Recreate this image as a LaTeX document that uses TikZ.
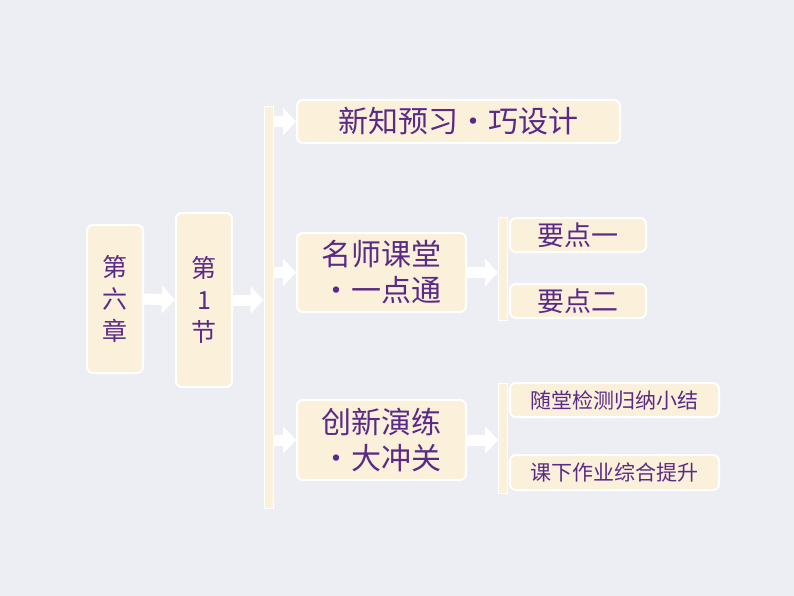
\documentclass[tikz,border=0pt]{standalone}
\usepackage{fontspec}
\setmainfont{Noto Sans CJK SC}
\usetikzlibrary{arrows.meta}
\definecolor{bgcol}{HTML}{EDEDF4}
\definecolor{boxcol}{HTML}{FBF0D9}
\definecolor{txtcol}{HTML}{5A2A86}
\tikzset{
  card/.style={draw=white, line width=2pt, fill=boxcol, rounded corners=6pt,
    text=txtcol, inner sep=0pt, align=center},
  strip/.style={draw=white, line width=1pt, fill=boxcol, inner sep=0pt},
  blk/.style={draw=white, line width=11pt, -{Triangle[length=13pt,width=27pt]}, shorten >=0pt}
}
\begin{document}
\begin{tikzpicture}[x=1pt,y=-1pt]
    % Background
    \fill[bgcol] (0,0) rectangle (794,596);
    \useasboundingbox (0,0) rectangle (794,596);

    % Chapter and section
    \node[card, minimum width=56pt, minimum height=148pt, font=\fontsize{25}{32}\selectfont] (chap) at (115,299) {第\\六\\章};
    \node[card, minimum width=56pt, minimum height=174pt, font=\fontsize{25}{32}\selectfont] (sect) at (204,300) {第\\1\\节};

    % Bars
    \node[strip, minimum width=9pt, minimum height=401pt] (barA) at (268.5,307.5) {};
    \node[strip, minimum width=9pt, minimum height=103pt] (barB) at (503,268.5) {};
    \node[strip, minimum width=9pt, minimum height=110pt] (barC) at (503,438) {};

    % Main parts
    \node[card, minimum width=323pt, minimum height=43pt, font=\fontsize{30}{34}\selectfont] (pre) at (458.5,121.5) {新知预习・巧设计};
    \node[card, minimum width=169pt, minimum height=79pt, font=\fontsize{30}{36}\selectfont] (cls) at (381.5,272.5) {名师课堂\\・一点通};
    \node[card, minimum width=169pt, minimum height=80pt, font=\fontsize{30}{36}\selectfont] (ex) at (381.5,440) {创新演练\\・大冲关};

    % Sub parts
    \node[card, minimum width=136pt, minimum height=34pt, font=\fontsize{27}{30}\selectfont] (keyA) at (578,235) {要点一};
    \node[card, minimum width=136pt, minimum height=34pt, font=\fontsize{27}{30}\selectfont] (keyB) at (578,301) {要点二};
    \node[card, minimum width=209pt, minimum height=34pt, font=\fontsize{21}{24}\selectfont] (chk) at (614.5,400) {随堂检测归纳小结};
    \node[card, minimum width=209pt, minimum height=35pt, font=\fontsize{21}{24}\selectfont] (hw) at (614.5,472.5) {课下作业综合提升};

    % Arrows
    \draw[blk] (chap.east) -- (sect.west);
    \draw[blk] (sect.east) -- (barA.west |- sect.east);
    \draw[blk] (barA.east |- pre.west) -- (pre.west);
    \draw[blk] (barA.east |- cls.west) -- (cls.west);
    \draw[blk] (barA.east |- ex.west) -- (ex.west);
    \draw[blk] (cls.east) -- (barB.west |- cls.east);
    \draw[blk] (ex.east) -- (barC.west |- ex.east);
\end{tikzpicture}
\end{document}
